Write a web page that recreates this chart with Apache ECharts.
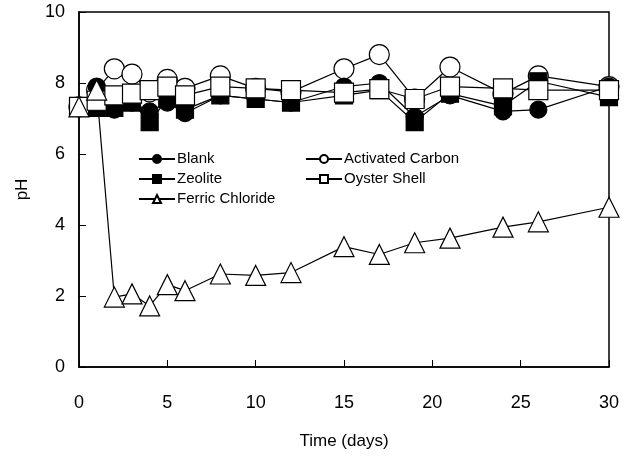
<!DOCTYPE html>
<html>
<head>
<meta charset="utf-8">
<script src="https://cdn.jsdelivr.net/npm/echarts@6/dist/echarts.min.js"></script>
<style>html,body{margin:0;padding:0;background:#fff;}#c{width:624px;height:463px;}</style>
</head>
<body>
<div id="c"></div>
<script>
const days = [0, 1, 2, 3, 4, 5, 6, 8, 10, 12, 15, 17, 19, 21, 24, 26, 30];
const activatedCarbon = [7.33, 7.8, 8.4, 8.25, 7.75, 8.1, 7.85, 8.2, 7.85, 7.75, 8.4, 8.8, 7.55, 8.45, 7.7, 8.2, 7.9];
const blank = [7.33, 7.9, 7.25, 7.45, 7.2, 7.45, 7.15, 7.65, 7.55, 7.45, 7.9, 8.0, 7.05, 7.65, 7.2, 7.25, 7.9];
const zeolite = [7.33, 7.3, 7.3, 7.45, 6.9, 7.55, 7.25, 7.65, 7.55, 7.45, 7.65, 7.8, 6.9, 7.7, 7.35, 8.05, 7.6];
const oysterShell = [7.33, 7.5, 7.65, 7.7, 7.8, 7.9, 7.65, 7.9, 7.85, 7.8, 7.73, 7.83, 7.55, 7.9, 7.85, 7.8, 7.8];
const ferricChloride = [7.33, 7.8, 1.97, 2.06, 1.72, 2.32, 2.15, 2.62, 2.58, 2.66, 3.39, 3.17, 3.5, 3.63, 3.94, 4.09, 4.5];
const xTicks = [0, 5, 10, 15, 20, 25, 30];
const yTicks = [0, 2, 4, 6, 8, 10];

const FONT = 'Liberation Sans';
function pairs(vals) { return days.map((d, i) => [d, vals[i]]); }
function mk(name, vals, symbol, size, filled) {
  return {
    name: name, type: 'line', data: pairs(vals),
    symbol: symbol, symbolSize: size, showAllSymbol: true,
    lineStyle: { color: '#000', width: 1.2 },
    itemStyle: { color: filled ? '#000' : '#fff', borderColor: '#000', borderWidth: 1.2 },
    emphasis: { disabled: true }, animation: false
  };
}
const legendBase = {
  orient: 'vertical', top: 151, padding: 0,
  itemWidth: 36, itemHeight: 10, itemGap: 4,
  textStyle: { fontFamily: FONT, fontSize: 15, color: '#000', lineHeight: 16, padding: [0, 0, 0, -3] },
  selectedMode: false
};
const chart = echarts.init(document.getElementById('c'));
chart.setOption({
  backgroundColor: '#fff',
  animation: false,
  grid: { left: 79, right: 15, top: 12, bottom: 96, show: true, borderColor: '#000', borderWidth: 1.5, backgroundColor: 'transparent' },
  xAxis: {
    type: 'value', min: 0, max: 30, interval: 5,
    name: 'Time (days)', nameLocation: 'middle', nameGap: 66,
    nameTextStyle: { fontFamily: FONT, fontSize: 17, color: '#000' },
    axisLine: { lineStyle: { color: '#000', width: 1.5 } },
    axisTick: { inside: true, length: 7, lineStyle: { color: '#000' } },
    axisLabel: { fontFamily: FONT, fontSize: 18, color: '#000', margin: 27,
      formatter: v => xTicks.includes(v) ? String(v) : '' },
    splitLine: { show: false }
  },
  yAxis: {
    type: 'value', min: 0, max: 10, interval: 2,
    name: 'pH', nameLocation: 'middle', nameGap: 48, nameRotate: 90,
    nameTextStyle: { fontFamily: FONT, fontSize: 17, color: '#000' },
    axisLine: { lineStyle: { color: '#000', width: 1.5 } },
    axisTick: { inside: true, length: 7, lineStyle: { color: '#000' } },
    axisLabel: { fontFamily: FONT, fontSize: 18, color: '#000', margin: 14,
      formatter: v => yTicks.includes(v) ? String(v) : '' },
    splitLine: { show: false }
  },
  legend: [
    Object.assign({}, legendBase, { data: ['Blank', 'Zeolite', 'Ferric Chloride'], left: 138 }),
    Object.assign({}, legendBase, { data: ['Activated Carbon', 'Oyster Shell'], left: 305 })
  ],
  series: [
    mk('Activated Carbon', activatedCarbon, 'circle', 20, false),
    mk('Blank', blank, 'circle', 17, true),
    mk('Zeolite', zeolite, 'rect', 17, true),
    mk('Oyster Shell', oysterShell, 'rect', 19, false),
    mk('Ferric Chloride', ferricChloride, 'triangle', 20, false)
  ]
});
</script>
</body>
</html>
